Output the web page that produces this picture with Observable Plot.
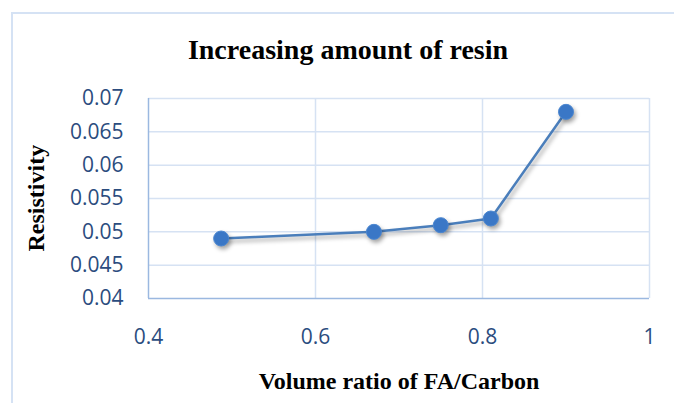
<!DOCTYPE html>
<html>
<head>
<meta charset="utf-8">
<script src="https://cdn.jsdelivr.net/npm/d3@7"></script>
<script src="https://cdn.jsdelivr.net/npm/@observablehq/plot@0.6"></script>
<style>
  html, body { margin: 0; padding: 0; background: #fff; }
  body { width: 674px; height: 403px; overflow: hidden; position: relative; }
  #frame {
    position: absolute; left: 11px; top: 12px; width: 700px; height: 420px;
    border: 2px solid #D5E2F4; box-sizing: border-box; pointer-events: none;
  }
  #head { position: relative; height: 80px; }
  #title {
    position: absolute; left: 348px; top: 36px; transform: translateX(-50%);
    font-family: "Liberation Serif", "Times New Roman", serif; font-weight: bold;
    font-size: 28px; line-height: 28px; white-space: nowrap; color: #000;
  }
  #chart svg { display: block; }
</style>
</head>
<body>
<div id="frame"></div>
<div id="head"><div id="title">Increasing amount of resin</div></div>
<div id="chart"></div>
<script>
// Volume ratio of FA/Carbon and measured resistivity
const volumeRatio = [0.487, 0.67, 0.75, 0.81, 0.9];
const resistivity = [0.049, 0.05, 0.051, 0.052, 0.068];

// Axis ticks and their labels
const xTicks = [0.4, 0.6, 0.8, 1];
const xTickLabels = ["0.4", "0.6", "0.8", "1"];
const yTicks = [0.04, 0.045, 0.05, 0.055, 0.06, 0.065, 0.07];
const yTickLabels = ["0.04", "0.045", "0.05", "0.055", "0.06", "0.065", "0.07"];

const xTitle = "Volume ratio of FA/Carbon";
const yTitle = "Resistivity";

const points = volumeRatio.map((x, i) => ({x, y: resistivity[i]}));

const gridColor = "#D6E2F3";
const axisColor = "#9BB8E0";
const tickColor = "#2B4C7E";
const serif = "'Liberation Serif', 'Times New Roman', serif";

const chart = Plot.plot({
  width: 674,
  height: 323,
  marginTop: 18,
  marginBottom: 105,
  marginLeft: 148,
  marginRight: 25,
  style: {fontFamily: "'Open Sans', sans-serif", background: "transparent", overflow: "visible"},
  x: {domain: [0.4, 1]},
  y: {domain: [0.04, 0.07]},
  marks: [
    Plot.ruleY(yTicks.slice(1), {stroke: gridColor, strokeWidth: 1.5}),
    Plot.ruleX(xTicks.slice(1), {stroke: gridColor, strokeWidth: 1.5}),
    Plot.ruleX([0.4], {stroke: axisColor, strokeWidth: 1.5}),
    Plot.ruleY([0.04], {stroke: axisColor, strokeWidth: 1.5}),
    Plot.axisY({
      ticks: yTicks, tickSize: 0, tickPadding: 25, fontSize: 21, fill: tickColor,
      tickFormat: d => yTickLabels[yTicks.indexOf(d)], label: null
    }),
    Plot.axisX({
      ticks: xTicks, tickSize: 0, tickPadding: 31, fontSize: 21, fill: tickColor,
      tickFormat: d => xTickLabels[xTicks.indexOf(d)], label: null
    }),
    Plot.text([xTitle], {
      text: d => d, frameAnchor: "bottom", dy: 90,
      fontFamily: serif, fontWeight: "bold", fontSize: 24, fill: "#000"
    }),
    Plot.text([yTitle], {
      text: d => d, frameAnchor: "left", dx: -112, dy: 53, rotate: -90,
      fontFamily: serif, fontWeight: "bold", fontSize: 24, fill: "#000"
    }),
    Plot.line(points, {x: "x", y: "y", stroke: "#4A7EBB", strokeWidth: 2.5}),
    Plot.dot(points, {x: "x", y: "y", r: 7.5, fill: "#3A77C6", stroke: "#4A86D0", strokeWidth: 1})
  ]
});

// soft drop shadow under the series, as in office-style charts
d3.select(chart).selectAll("g[aria-label='line'], g[aria-label='dot']")
  .style("filter", "drop-shadow(2px 3px 2px rgba(0,0,0,0.35))");

document.getElementById("chart").appendChild(chart);
</script>
</body>
</html>
